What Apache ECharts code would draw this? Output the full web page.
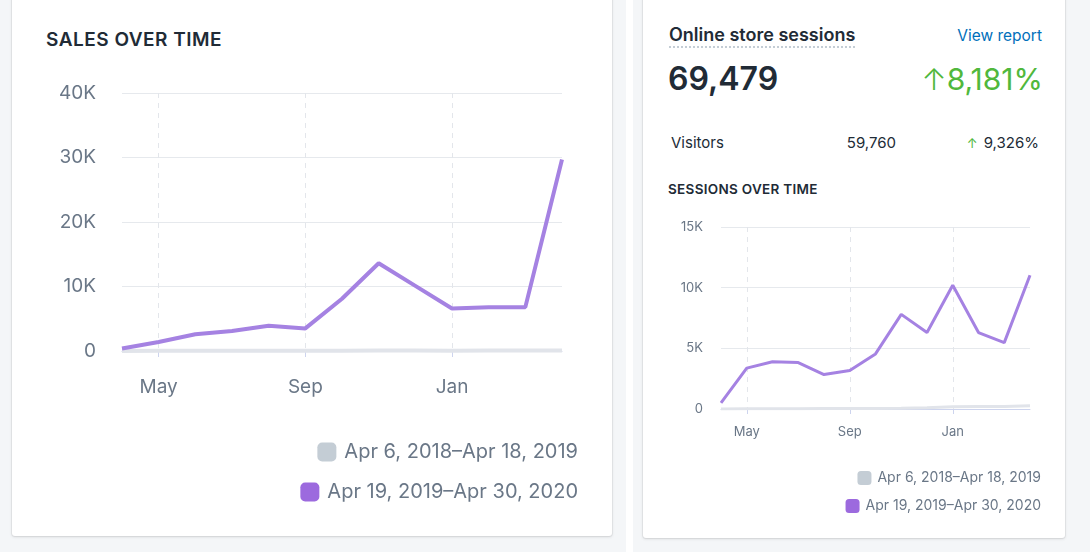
<!DOCTYPE html>
<html>
<head>
<meta charset="utf-8">
<script src="https://cdn.jsdelivr.net/npm/echarts@6/dist/echarts.min.js"></script>
<style>
  html, body { margin: 0; padding: 0; }
  body {
    width: 1090px; height: 552px; overflow: hidden; position: relative;
    background: #f4f6f8; font-family: Inter, "Noto Sans", sans-serif; color: #212b36;
  }
  .card {
    position: absolute; top: -10px; background: #fff; border-radius: 3px;
    box-shadow: 0 0 0 1px rgba(63,63,68,0.06), 0 1px 3px 0 rgba(63,63,68,0.16);
  }
  .strip { position: absolute; left: 626px; top: 0; width: 7px; height: 552px; background: #fff; }
  .t { position: absolute; white-space: nowrap; }
  .chart { position: absolute; top: 0; }
</style>
</head>
<body>
<div class="strip"></div>
<div class="card" style="left:12px;width:600px;height:546px;"></div>
<div class="card" style="left:643px;width:422px;height:548px;"></div>

<div class="t" style="left:46px;top:28px;line-height:24px;font-size:19px;font-weight:600;letter-spacing:0.5px;">SALES OVER TIME</div>

<div class="t" style="left:669px;top:24px;line-height:22px;font-size:18px;font-weight:600;border-bottom:2px dotted #c4cdd5;">Online store sessions</div>
<div class="t" style="right:48px;top:25px;line-height:22px;font-size:15.5px;color:#006fbb;">View report</div>
<div class="t" style="left:668px;top:59px;line-height:40px;font-size:32px;font-weight:600;">69,479</div>
<div class="t" style="right:47px;top:59px;line-height:40px;font-size:30px;color:#50b83c;"><span style="font-weight:300;">↑</span>8,181%</div>
<div class="t" style="left:671px;top:132px;line-height:22px;font-size:15px;">Visitors</div>
<div class="t" style="right:194px;top:132px;line-height:22px;font-size:15px;">59,760</div>
<div class="t" style="right:51px;top:132px;line-height:22px;font-size:15px;"><span style="color:#50b83c;font-size:13px;margin-right:6px;">↑</span>9,326%</div>
<div class="t" style="left:668px;top:180px;line-height:18px;font-size:13.5px;font-weight:600;letter-spacing:0.3px;">SESSIONS OVER TIME</div>

<div id="sales" class="chart" style="left:12px;width:600px;height:536px;"></div>
<div id="sessions" class="chart" style="left:643px;width:422px;height:538px;"></div>

<script>
const months = ['Apr 2019', 'May 2019', 'Jun 2019', 'Jul 2019', 'Aug 2019', 'Sep 2019', 'Oct 2019',
  'Nov 2019', 'Dec 2019', 'Jan 2020', 'Feb 2020', 'Mar 2020', 'Apr 2020'];
const shownMonths = [1, 5, 9];
const prevName = 'Apr 6, 2018–Apr 18, 2019';
const currName = 'Apr 19, 2019–Apr 30, 2020';

const salesPrevious = [0, 20, 30, 30, 40, 40, 50, 60, 60, 50, 60, 60, 80];
const salesCurrent = [400, 1400, 2600, 3100, 3900, 3500, 8100, 13600, 10100, 6600, 6800, 6800, 29700];

const sessionsPrevious = [10, 20, 30, 30, 40, 40, 50, 60, 110, 180, 210, 200, 260];
const sessionsCurrent = [500, 3370, 3900, 3830, 2840, 3170, 4540, 7800, 6300, 10200, 6300, 5470, 11030];

const purple = '#9c6ade';
const purpleLine = '#a582e2';
const prevLine = '#e1e4ea';
const prevSwatch = '#c4cdd5';
const labelColor = '#6a7787';

const isShown = idx => shownMonths.indexOf(idx) >= 0;
const kFormat = v => (v === 0 ? '0' : v / 1000 + 'K');

const buildOption = (cfg) => ({
  animation: false,
  grid: cfg.grid,
  legend: [prevName, currName].map((name, i) => ({
    data: [{ name, itemStyle: { color: i === 0 ? prevSwatch : purple } }],
    icon: 'roundRect',
    itemWidth: cfg.swatch,
    itemHeight: cfg.swatch,
    right: cfg.legendRight,
    top: cfg.legendTops[i],
    selectedMode: false,
    itemStyle: { borderWidth: 0 },
    textStyle: { fontFamily: 'Inter', fontSize: cfg.legendFont, color: labelColor, padding: [0, 0, 0, cfg.legendPad] },
  })),
  xAxis: {
    type: 'category',
    data: months,
    boundaryGap: false,
    axisLine: { lineStyle: { color: '#cdd4ee', width: 1 } },
    axisTick: { interval: isShown, length: cfg.tickLen, lineStyle: { color: '#cdd4ee' } },
    axisLabel: {
      interval: isShown,
      margin: cfg.xMargin,
      fontFamily: 'Inter',
      fontSize: cfg.axisFont,
      color: labelColor,
      formatter: v => v.split(' ')[0],
    },
    splitLine: { show: true, interval: isShown, lineStyle: { color: '#e3e6eb', type: [5, 5] } },
  },
  yAxis: {
    type: 'value',
    min: 0,
    max: cfg.yMax,
    interval: cfg.yStep,
    axisLine: { show: false },
    axisTick: { show: false },
    axisLabel: { margin: cfg.yMargin, fontFamily: 'Inter', fontSize: cfg.axisFont, color: labelColor, formatter: kFormat },
    splitLine: { lineStyle: { color: '#e6e9ed', width: 1 } },
  },
  series: [
    {
      name: prevName,
      type: 'line',
      data: cfg.previous,
      showSymbol: false,
      lineStyle: { color: prevLine, width: cfg.lineWidth },
      itemStyle: { color: prevSwatch },
    },
    {
      name: currName,
      type: 'line',
      data: cfg.current,
      showSymbol: false,
      lineStyle: { color: purpleLine, width: cfg.lineWidth },
      itemStyle: { color: purple },
    },
  ],
});

const salesChart = echarts.init(document.getElementById('sales'));
salesChart.setOption(buildOption({
  grid: { left: 110, right: 50, top: 93, bottom: 185 },
  yMax: 40000, yStep: 10000,
  previous: salesPrevious, current: salesCurrent,
  lineWidth: 4, axisFont: 19, yMargin: 26, xMargin: 27, tickLen: 6,
  swatch: 19, legendFont: 20, legendPad: 3, legendRight: 29, legendTops: [437, 477],
}));

const sessionsChart = echarts.init(document.getElementById('sessions'));
sessionsChart.setOption(buildOption({
  grid: { left: 78, right: 35, top: 227, bottom: 129 },
  yMax: 15000, yStep: 5000,
  previous: sessionsPrevious, current: sessionsCurrent,
  lineWidth: 3, axisFont: 13, yMargin: 18, xMargin: 17, tickLen: 5,
  swatch: 14, legendFont: 14, legendPad: 1, legendRight: 19, legendTops: [466, 494],
}));
</script>
</body>
</html>
